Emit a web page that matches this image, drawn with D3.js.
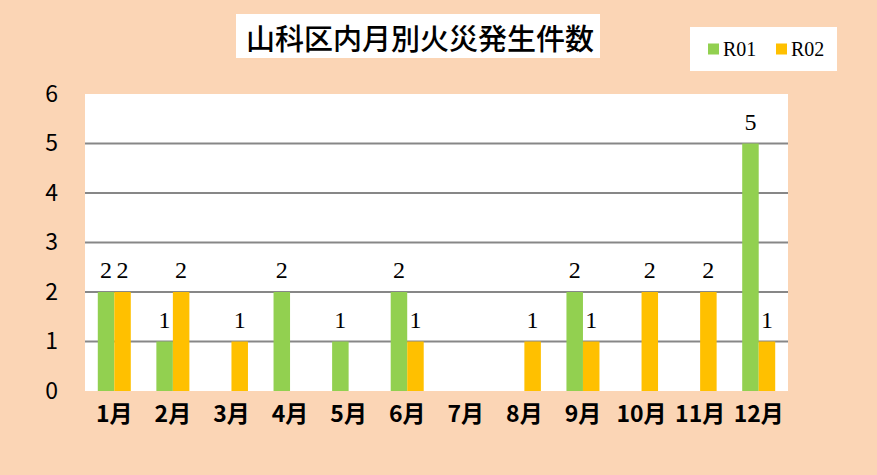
<!DOCTYPE html>
<html>
<head>
<meta charset="utf-8">
<script src="https://cdn.jsdelivr.net/npm/d3@7"></script>
<style>
  body { margin: 0; background: #fbd5b5; }
  svg { display: block; }
</style>
</head>
<body>
<svg id="chart" width="877" height="475"></svg>
<script>
const months = ['1月', '2月', '3月', '4月', '5月', '6月', '7月', '8月', '9月', '10月', '11月', '12月'];
const seriesNames = ['R01', 'R02'];
const r01 = [2, 1, 0, 2, 1, 2, 0, 0, 2, 0, 0, 5];
const r02 = [2, 2, 1, 0, 0, 1, 0, 1, 1, 2, 2, 1];
const yTicks = [0, 1, 2, 3, 4, 5, 6];
const title = '山科区内月別火災発生件数';

const colors = { R01: '#92d050', R02: '#ffc000' };
const plot = { left: 85, right: 788, top: 94, bottom: 391 };

const svg = d3.select('#chart');

svg.append('rect')
  .attr('width', 877).attr('height', 475)
  .attr('fill', '#fbd5b5');

// title box
svg.append('rect')
  .attr('x', 236).attr('y', 14).attr('width', 364).attr('height', 44)
  .attr('fill', '#fff');
svg.append('text')
  .attr('x', 420).attr('y', 37)
  .attr('text-anchor', 'middle')
  .attr('dominant-baseline', 'central')
  .attr('font-family', '"Noto Sans CJK JP", sans-serif')
  .attr('font-size', 29)
  .attr('font-weight', 500)
  .attr('fill', '#000')
  .text(title);

const x0 = d3.scaleBand().domain(months).range([plot.left, plot.right]);
const x1 = d3.scaleBand().domain(seriesNames)
  .range([0, x0.bandwidth()])
  .paddingOuter(0.775);
const y = d3.scaleLinear().domain([0, 6]).range([plot.bottom, plot.top]);

svg.append('rect')
  .attr('x', plot.left).attr('y', plot.top)
  .attr('width', plot.right - plot.left).attr('height', plot.bottom - plot.top)
  .attr('fill', '#fff');

// gridlines
svg.append('g').selectAll('line')
  .data(yTicks.filter(t => t > 0 && t < 6))
  .join('line')
  .attr('x1', plot.left).attr('x2', plot.right)
  .attr('y1', d => y(d)).attr('y2', d => y(d))
  .attr('stroke', '#878787')
  .attr('stroke-width', 1.8);

// y axis
const yAxis = svg.append('g')
  .attr('transform', `translate(${plot.left},0)`)
  .call(d3.axisLeft(y).tickValues(yTicks).tickFormat(d3.format('d')).tickSize(0).tickPadding(27));
yAxis.select('.domain').remove();
yAxis.selectAll('text')
  .attr('font-family', '"Noto Sans CJK JP", sans-serif')
  .attr('font-size', 23)
  .attr('fill', '#000');

// x axis
const xAxis = svg.append('g')
  .attr('transform', `translate(0,${plot.bottom})`)
  .call(d3.axisBottom(x0).tickSize(0).tickPadding(15));
xAxis.select('.domain').remove();
xAxis.selectAll('text')
  .attr('font-family', '"Noto Sans CJK JP", sans-serif')
  .attr('font-size', 23)
  .attr('font-weight', 'bold')
  .attr('fill', '#000');

const rows = months.map((m, i) => ({ month: m, values: [
  { key: 'R01', value: r01[i] },
  { key: 'R02', value: r02[i] },
] }));

const groups = svg.append('g').selectAll('g')
  .data(rows)
  .join('g')
  .attr('transform', d => `translate(${x0(d.month)},0)`);

groups.selectAll('rect')
  .data(d => d.values)
  .join('rect')
  .attr('x', d => x1(d.key))
  .attr('width', x1.bandwidth())
  .attr('y', d => y(d.value))
  .attr('height', d => y(0) - y(d.value))
  .attr('fill', d => colors[d.key]);

groups.selectAll('text')
  .data(d => d.values.filter(v => v.value > 0))
  .join('text')
  .attr('x', d => x1(d.key) + x1.bandwidth() / 2)
  .attr('y', d => y(d.value) - 14)
  .attr('text-anchor', 'middle')
  .attr('font-family', '"Liberation Serif", serif')
  .attr('font-size', 24)
  .attr('fill', '#000')
  .text(d => d.value);

// legend
const legend = svg.append('g');
legend.append('rect')
  .attr('x', 690).attr('y', 27).attr('width', 147).attr('height', 44)
  .attr('fill', '#fff');
const items = legend.selectAll('g')
  .data(seriesNames)
  .join('g')
  .attr('transform', (d, i) => `translate(${708 + i * 68},49)`);
items.append('rect')
  .attr('x', 0).attr('y', -5.5).attr('width', 11).attr('height', 11)
  .attr('fill', d => colors[d]);
items.append('text')
  .attr('x', 15).attr('y', 0)
  .attr('dominant-baseline', 'central')
  .attr('font-family', '"Liberation Serif", serif')
  .attr('font-size', 20)
  .attr('fill', '#000')
  .text(d => d);
</script>
</body>
</html>
